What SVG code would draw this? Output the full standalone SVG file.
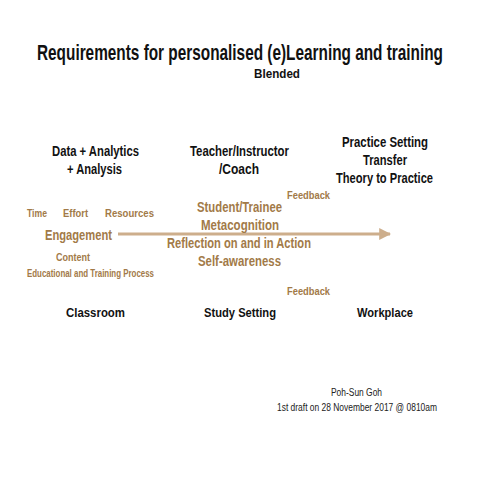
<svg xmlns="http://www.w3.org/2000/svg" width="480" height="480" viewBox="0 0 480 480">
<style>
text{font-family:"Liberation Sans",Arial,sans-serif;font-weight:bold;}
.k{fill:#111;}
.b{fill:#a27a48;}
.n{font-weight:normal;fill:#222;font-size:10px;}
</style>
<defs>
<marker id="ah" viewBox="0 0 10 10" refX="9" refY="5" markerWidth="4" markerHeight="5.5" markerUnits="strokeWidth" orient="auto">
<path d="M0,0 L10,5 L0,10 Z" fill="#cdae8c"/>
</marker>
</defs>
<rect width="480" height="480" fill="#fff"/>
<g id="title">
<text class="k" x="0" y="0" font-size="16" transform="translate(37,60) scale(1,1.375)" textLength="406" lengthAdjust="spacingAndGlyphs">Requirements for personalised (e)Learning and training</text>
<text class="k" x="254" y="78" font-size="13.5" textLength="46" lengthAdjust="spacingAndGlyphs">Blended</text>
</g>
<g id="connectors">
<line x1="118" y1="234" x2="390" y2="234" stroke="#cdae8c" stroke-width="3" marker-end="url(#ah)"/>
</g>
<g id="data-analytics">
<text class="k" x="52" y="156" font-size="14.5" textLength="87" lengthAdjust="spacingAndGlyphs">Data + Analytics</text>
<text class="k" x="67" y="174" font-size="14.5" textLength="55" lengthAdjust="spacingAndGlyphs">+ Analysis</text>
</g>
<g id="teacher">
<text class="k" x="190" y="156" font-size="14.5" textLength="99" lengthAdjust="spacingAndGlyphs">Teacher/Instructor</text>
<text class="k" x="219" y="174" font-size="14.5" textLength="40" lengthAdjust="spacingAndGlyphs">/Coach</text>
</g>
<g id="practice">
<text class="k" x="342" y="147" font-size="14.5" textLength="86" lengthAdjust="spacingAndGlyphs">Practice Setting</text>
<text class="k" x="363" y="165" font-size="14.5" textLength="44" lengthAdjust="spacingAndGlyphs">Transfer</text>
<text class="k" x="336" y="183" font-size="14.5" textLength="97" lengthAdjust="spacingAndGlyphs">Theory to Practice</text>
</g>
<g id="inputs">
<text class="b" x="27" y="217" font-size="11" textLength="20" lengthAdjust="spacingAndGlyphs">Time</text>
<text class="b" x="63" y="217" font-size="11" textLength="25" lengthAdjust="spacingAndGlyphs">Effort</text>
<text class="b" x="105" y="217" font-size="11" textLength="49" lengthAdjust="spacingAndGlyphs">Resources</text>
<text class="b" x="45" y="240" font-size="14.5" textLength="67" lengthAdjust="spacingAndGlyphs">Engagement</text>
<text class="b" x="56" y="261" font-size="11" textLength="34" lengthAdjust="spacingAndGlyphs">Content</text>
<text class="b" x="27" y="277" font-size="10" textLength="127" lengthAdjust="spacingAndGlyphs">Educational and Training Process</text>
</g>
<g id="student">
<text class="b" x="197" y="212" font-size="14.5" textLength="85" lengthAdjust="spacingAndGlyphs">Student/Trainee</text>
<text class="b" x="201" y="230" font-size="14.5" textLength="78" lengthAdjust="spacingAndGlyphs">Metacognition</text>
<text class="b" x="167" y="248" font-size="14.5" textLength="144" lengthAdjust="spacingAndGlyphs">Reflection on and in Action</text>
<text class="b" x="198" y="266" font-size="14.5" textLength="83" lengthAdjust="spacingAndGlyphs">Self-awareness</text>
</g>
<g id="feedback">
<text class="b" x="287" y="199" font-size="11" textLength="43" lengthAdjust="spacingAndGlyphs">Feedback</text>
<text class="b" x="287" y="295" font-size="11" textLength="43" lengthAdjust="spacingAndGlyphs">Feedback</text>
</g>
<g id="settings">
<text class="k" x="66" y="317" font-size="13.5" textLength="59" lengthAdjust="spacingAndGlyphs">Classroom</text>
<text class="k" x="204" y="317" font-size="13.5" textLength="72" lengthAdjust="spacingAndGlyphs">Study Setting</text>
<text class="k" x="357" y="317" font-size="13.5" textLength="56" lengthAdjust="spacingAndGlyphs">Workplace</text>
</g>
<g id="credit">
<text class="n" x="331" y="396" textLength="51" lengthAdjust="spacingAndGlyphs">Poh-Sun Goh</text>
<text class="n" x="277" y="411" textLength="160" lengthAdjust="spacingAndGlyphs">1st draft on 28 November 2017 @ 0810am</text>
</g>
</svg>
